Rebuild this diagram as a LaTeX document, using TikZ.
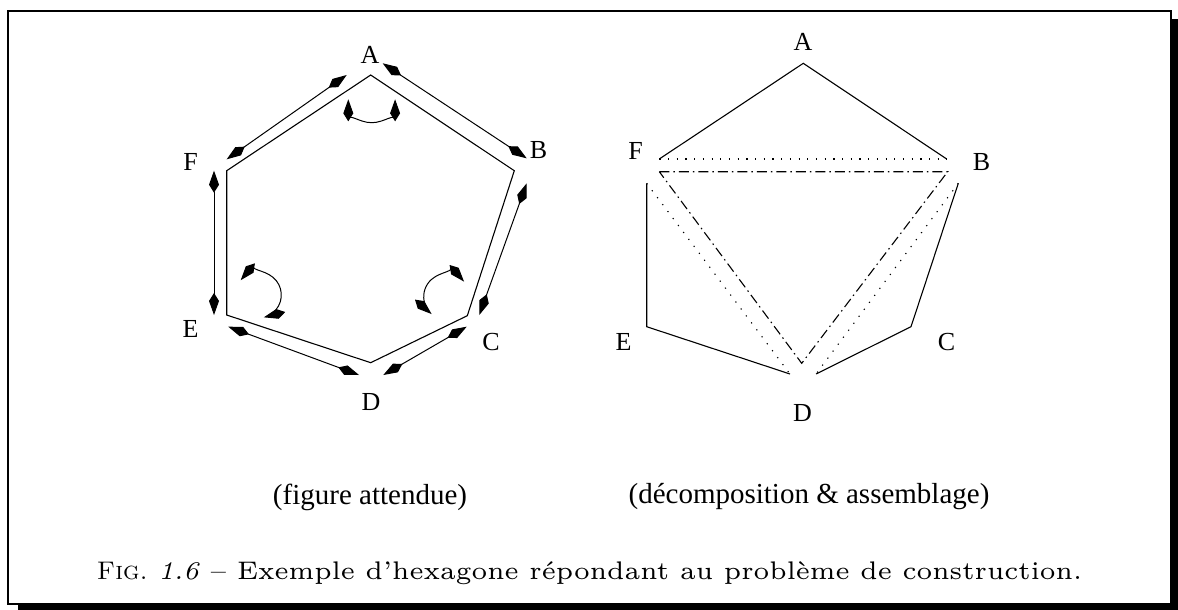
\documentclass[tikz,border=0pt]{standalone}
\usepackage{fontspec}
\newfontfamily\timesfont{Liberation Serif}
\usetikzlibrary{arrows.meta}

\begin{document}
\begin{tikzpicture}[
  x=1pt, y=-1pt,
  vlabel/.style ={font=\timesfont\fontsize{26}{30}\selectfont, inner sep=0pt},
  sublabel/.style={font=\timesfont\fontsize{29}{34}\selectfont, inner sep=0pt},
  edge/.style   ={line width=1.1pt, line join=miter},
  move/.style   ={{Kite[length=22pt,width=10pt,inset=8pt]}-{Kite[length=22pt,width=10pt,inset=8pt]}, line width=1pt},
  cut/.style    ={line width=1.1pt, dash pattern=on 1.2pt off 7.5pt},
  glue/.style   ={line width=1.1pt, dash pattern=on 10pt off 4pt on 1.5pt off 4pt},
]
\useasboundingbox (0,0) rectangle (1178,610);
% ----- frame -----
\draw[line width=2.5pt] (8,11) rectangle (1171,604);
\fill (18,604) rectangle (1178,610);
\fill (1171,19) rectangle (1178,610);
% ----- figure attendue -----
\coordinate (A1) at (370.7,75);
\coordinate (B1) at (514.3,170.7);
\coordinate (C1) at (467.3,315.7);
\coordinate (D1) at (370.7,362.7);
\coordinate (E1) at (226.7,315);
\coordinate (F1) at (226.7,170.7);
\draw[edge] (A1) -- (B1) -- (C1) -- (D1) -- (E1) -- (F1) -- cycle;
\node[vlabel] (labA1) at (370,55)    {A};
\node[vlabel] (labB1) at (538.5,150) {B};
\node[vlabel] (labC1) at (491,342)   {C};
\node[vlabel] (labD1) at (371,402)   {D};
\node[vlabel] (labE1) at (190.5,329) {E};
\node[vlabel] (labF1) at (190.5,162) {F};
% moves along the sides
\coordinate (ab1) at (382.7,63.3);  \coordinate (ab2) at (526.7,158.3);
\coordinate (bc1) at (526.7,183.3); \coordinate (bc2) at (479.3,315);
\coordinate (cd1) at (466.7,326.7); \coordinate (cd2) at (383.3,375);
\coordinate (de1) at (359,375);     \coordinate (de2) at (228.3,326.7);
\coordinate (ef1) at (214,315);     \coordinate (ef2) at (214,170.7);
\coordinate (fa1) at (226.7,159.3); \coordinate (fa2) at (346.7,75);
\draw[move] (ab1) -- (ab2);
\draw[move] (bc1) -- (bc2);
\draw[move] (cd1) -- (cd2);
\draw[move] (de1) -- (de2);
\draw[move] (ef1) -- (ef2);
\draw[move] (fa1) -- (fa2);
% turns at the corners
\coordinate (turnA) at (371.7,99.3);
\coordinate (turnE) at (258.3,295);
\coordinate (turnC) at (446.7,296.7);
\draw[move] ([shift={(180:23.4)}]turnA) arc[start angle=180, end angle=0, radius=23.4];
\draw[move] ([shift={(220:23)}]turnE) arc[start angle=220, end angle=436, radius=23];
\draw[move] ([shift={(319:23)}]turnC) arc[start angle=319, end angle=131, radius=23];
\node[sublabel] (sub1) at (370,497) {(figure attendue)};
% ----- decomposition -----
\coordinate (A2) at (803.3,63.3);
\coordinate (F2) at (659.3,159);
\coordinate (B2) at (946.7,159);
\coordinate (Et) at (646.7,183.3);
\coordinate (E2) at (646.7,326.7);
\coordinate (Dl) at (790,374);
\coordinate (Ct) at (958.3,183.3);
\coordinate (C2) at (911,326.7);
\coordinate (Dr) at (816,374);
\coordinate (Fm) at (659.3,171.7);
\coordinate (Bm) at (947.7,171.7);
\coordinate (Dm) at (801.7,363.3);
\draw[edge] (F2) -- (A2) -- (B2);
\draw[edge] (Et) -- (E2) -- (Dl);
\draw[edge] (Ct) -- (C2) -- (Dr);
\draw[cut] (F2) -- (B2);
\draw[cut] (Et) -- (Dl);
\draw[cut] (Ct) -- (Dr);
\draw[glue] (Fm) -- (Bm) -- (Dm) -- cycle;
\node[vlabel] (labA2) at (803,42)      {A};
\node[vlabel] (labB2) at (981.5,162)   {B};
\node[vlabel] (labC2) at (946.5,342)   {C};
\node[vlabel] (labD2) at (802.5,413.5) {D};
\node[vlabel] (labE2) at (623.5,342)   {E};
\node[vlabel] (labF2) at (635.5,150.5) {F};
\node[sublabel] (sub2) at (809,497) {(décomposition \& assemblage)};
% ----- caption -----
\node[anchor=base, inner sep=0pt] (cap) at (589.5,579)
  {\resizebox*{985pt}{23pt}{\fontsize{6}{8}\selectfont
   \textsc{Fig.}~\textit{1.6} -- Exemple d'hexagone répondant au problème de construction.}};
\end{tikzpicture}
\end{document}
